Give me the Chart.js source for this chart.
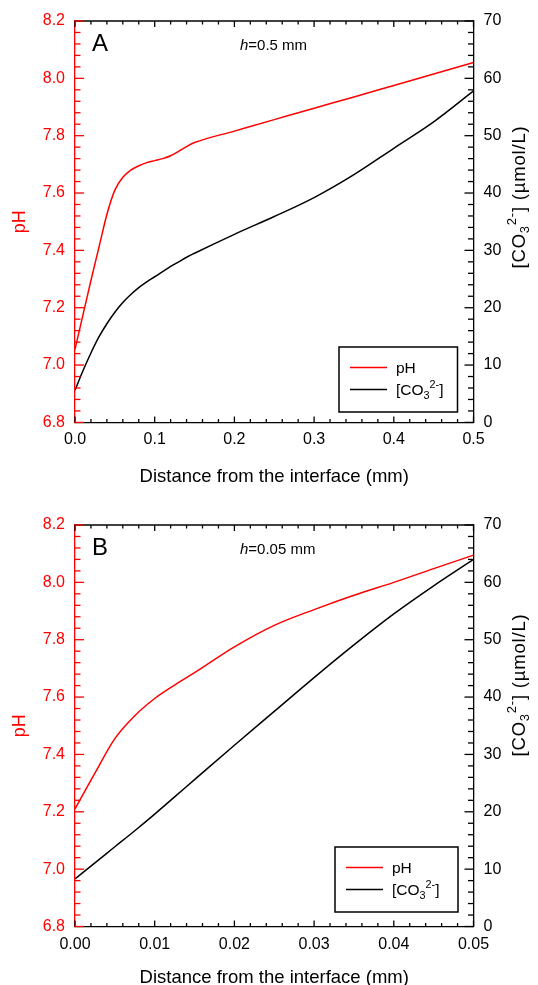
<!DOCTYPE html>
<html>
<head>
<meta charset="utf-8">
<script src="https://cdn.jsdelivr.net/npm/chart.js@4.4.0/dist/chart.umd.min.js"></script>
<style>
  html, body { margin: 0; padding: 0; background: #fff; }
  .panel { position: absolute; left: 0; width: 538px; }
  #panelA { top: 0; height: 490px; }
  #panelB { top: 490px; height: 495px; }
</style>
</head>
<body>
<div class="panel" id="panelA"><canvas id="chartA" width="538" height="490"></canvas></div>
<div class="panel" id="panelB"><canvas id="chartB" width="538" height="495"></canvas></div>
<script>
// DATA
const distA = [0, 0.01, 0.02, 0.03, 0.04, 0.05, 0.06, 0.07, 0.08, 0.09, 0.10, 0.11, 0.12, 0.13, 0.14, 0.15, 0.20, 0.25, 0.30, 0.35, 0.40, 0.45, 0.50];
const phA  = [7.055, 7.175, 7.295, 7.41, 7.525, 7.61, 7.655, 7.68, 7.695, 7.706, 7.713, 7.72, 7.73, 7.745, 7.762, 7.776, 7.816, 7.856, 7.896, 7.935, 7.975, 8.015, 8.055];
const co3A = [5.6, 9.0, 12.1, 14.9, 17.2, 19.2, 20.9, 22.3, 23.5, 24.5, 25.4, 26.3, 27.2, 28.0, 28.8, 29.5, 32.8, 35.9, 39.2, 43.2, 47.8, 52.4, 57.8];

const distB = [0, 0.0025, 0.005, 0.0075, 0.01, 0.0125, 0.015, 0.02, 0.025, 0.03, 0.035, 0.04, 0.045, 0.05];
const phB  = [7.21, 7.335, 7.455, 7.535, 7.595, 7.642, 7.685, 7.775, 7.85, 7.905, 7.955, 8.0, 8.048, 8.095];
const co3B = [8.3, 11.1, 13.9, 16.7, 19.6, 22.6, 25.6, 31.6, 37.5, 43.4, 49.1, 54.5, 59.4, 64.0];

const phTicks = [6.8, 7.0, 7.2, 7.4, 7.6, 7.8, 8.0, 8.2];
const co3Ticks = [0, 10, 20, 30, 40, 50, 60, 70];
const distTicksA = [0, 0.1, 0.2, 0.3, 0.4, 0.5];
const distTicksB = [0, 0.01, 0.02, 0.03, 0.04, 0.05];

const phLabel = 'pH';
const co3Label = '[CO₃²⁻]';
// same label split for drawing with sub/superscript
const co3Parts = [['[CO', 0], ['3', -1], ['2-', 1], [']', 0]];
const co3TitleParts = co3Parts.concat([[' (\u00b5mol/L)', 0]]);
const xTitle = 'Distance from the interface (mm)';

const FONT = "'Liberation Sans', Arial, sans-serif";
const RED = '#ff0000';

function pts(xs, ys) {
    return xs.map((x, i) => ({x: x, y: ys[i]}));
}

function partsWidth(ctx, parts, size) {
    let w = 0;
    parts.forEach(p => {
        ctx.font = (p[1] === 0 ? size : size * 0.7) + 'px ' + FONT;
        w += ctx.measureText(p[0]).width;
    });
    return w;
}

function drawParts(ctx, parts, x, y, size) {
    let cx = x;
    parts.forEach(p => {
        const s = p[1] === 0 ? size : size * 0.7;
        const dy = p[1] < 0 ? size * 0.28 : (p[1] > 0 ? -size * 0.42 : 0);
        ctx.font = s + 'px ' + FONT;
        ctx.fillText(p[0], cx, y + dy);
        cx += ctx.measureText(p[0]).width;
    });
}

// inward ticks, top border, legend box, panel letter etc.
const decor = {
    id: 'decor',
    afterDraw(chart, args, o) {
        const ctx = chart.ctx;
        const a = chart.chartArea;
        const sx = chart.scales.x, sy = chart.scales.y, sy1 = chart.scales.y1;
        ctx.save();
        ctx.lineWidth = 1.3;

        // top frame line
        ctx.strokeStyle = '#000';
        ctx.beginPath();
        ctx.moveTo(a.left, a.top);
        ctx.lineTo(a.right, a.top);
        ctx.stroke();

        // x ticks (bottom + top)
        const nx = Math.round((sx.max - sx.min) / o.minorX);
        for (let i = 0; i <= nx; i++) {
            const px = sx.getPixelForValue(sx.min + i * o.minorX);
            const len = i % 5 === 0 ? 6 : 3.5;
            ctx.beginPath();
            ctx.moveTo(px, a.bottom); ctx.lineTo(px, a.bottom - len);
            ctx.moveTo(px, a.top); ctx.lineTo(px, a.top + len);
            ctx.stroke();
        }
        // right ticks
        for (let i = 0; i <= 35; i++) {
            const py = sy1.getPixelForValue(i * 2);
            const len = i % 5 === 0 ? 9 : 5.5;
            ctx.beginPath();
            ctx.moveTo(a.right, py); ctx.lineTo(a.right - len, py);
            ctx.stroke();
        }
        // left ticks (red)
        ctx.strokeStyle = RED;
        for (let i = 0; i <= 35; i++) {
            const py = sy.getPixelForValue(6.8 + i * 0.04);
            const len = i % 5 === 0 ? 9 : 5.5;
            ctx.beginPath();
            ctx.moveTo(a.left, py); ctx.lineTo(a.left + len, py);
            ctx.stroke();
        }

        // panel letter and thickness note
        ctx.fillStyle = '#000';
        ctx.textBaseline = 'alphabetic';
        ctx.textAlign = 'left';
        ctx.font = '24px ' + FONT;
        ctx.fillText(o.letter, 92, a.top + 30);
        ctx.font = 'italic 15px ' + FONT;
        ctx.fillText('h', 240, a.top + 29);
        const hw = ctx.measureText('h').width;
        ctx.font = '15px ' + FONT;
        ctx.fillText(o.note, 240 + hw, a.top + 29);

        // legend
        const ds = chart.data.datasets;
        const bx = a.right - o.legRight - o.legW;
        const by = a.bottom - o.legBottom - o.legH;
        ctx.lineWidth = 1.5;
        ctx.strokeStyle = '#000';
        ctx.strokeRect(bx, by, o.legW, o.legH);
        const rows = [by + 20.5, by + 42.5];
        ds.forEach((d, i) => {
            ctx.strokeStyle = d.borderColor;
            ctx.beginPath();
            ctx.moveTo(bx + 11, rows[i]);
            ctx.lineTo(bx + 48, rows[i]);
            ctx.stroke();
            ctx.fillStyle = '#000';
            if (d.label === co3Label) {
                drawParts(ctx, co3Parts, bx + 57, rows[i] + 5.5, 15.5);
            } else {
                ctx.font = '15.5px ' + FONT;
                ctx.fillText(d.label, bx + 57, rows[i] + 5.5);
            }
        });

        // right axis title, reading bottom to top
        ctx.translate(520, o.rightTitleY);
        ctx.rotate(-Math.PI / 2);
        ctx.letterSpacing = '0.8px';
        const tw = partsWidth(ctx, co3TitleParts, 18.5);
        ctx.textBaseline = 'middle';
        ctx.fillStyle = '#000';
        drawParts(ctx, co3TitleParts, -tw / 2, 0, 18.5);
        ctx.restore();
    }
};

function makeChart(id, dist, ph, co3, distTicks, xmax, digits, opt) {
    const ctx = document.getElementById(id).getContext('2d');
    return new Chart(ctx, {
        type: 'line',
        data: {
            datasets: [{
                label: phLabel,
                data: pts(dist, ph),
                yAxisID: 'y',
                borderColor: RED,
                borderWidth: 1.5,
                pointRadius: 0,
                fill: false,
                cubicInterpolationMode: 'monotone'
            }, {
                label: co3Label,
                data: pts(dist, co3),
                yAxisID: 'y1',
                borderColor: '#000',
                borderWidth: 1.5,
                pointRadius: 0,
                fill: false,
                cubicInterpolationMode: 'monotone'
            }]
        },
        options: {
            responsive: false,
            animation: false,
            layout: { padding: { top: opt.padTop, left: 0, right: 0, bottom: 0 } },
            scales: {
                x: {
                    type: 'linear',
                    position: 'bottom',
                    min: 0,
                    max: xmax,
                    afterBuildTicks: s => { s.ticks = distTicks.map(v => ({value: v})); },
                    afterFit: s => { s.height = opt.xHeight; },
                    grid: { display: false, drawTicks: false },
                    border: { display: true, color: '#000', width: 1.3 },
                    ticks: {
                        color: '#000',
                        font: { family: FONT, size: 16 },
                        padding: 8,
                        maxRotation: 0,
                        autoSkip: false,
                        callback: v => v.toFixed(digits)
                    },
                    title: {
                        display: true,
                        text: xTitle,
                        color: '#000',
                        font: { family: FONT, size: 18.5 },
                        padding: { top: 0, bottom: opt.xTitlePad }
                    }
                },
                y: {
                    position: 'left',
                    min: 6.8,
                    max: 8.2,
                    afterBuildTicks: s => { s.ticks = phTicks.map(v => ({value: v})); },
                    afterFit: s => { s.width = 75; },
                    grid: { display: false, drawTicks: false },
                    border: { display: true, color: RED, width: 1.3 },
                    ticks: {
                        color: RED,
                        font: { family: FONT, size: 16 },
                        padding: 10,
                        callback: v => v.toFixed(1)
                    },
                    title: {
                        display: true,
                        text: 'pH',
                        color: RED,
                        font: { family: FONT, size: 18 },
                        padding: { top: 9, bottom: 0 }
                    }
                },
                y1: {
                    position: 'right',
                    min: 0,
                    max: 70,
                    afterBuildTicks: s => { s.ticks = co3Ticks.map(v => ({value: v})); },
                    afterFit: s => { s.width = 64.5; },
                    grid: { display: false, drawTicks: false },
                    border: { display: true, color: '#000', width: 1.3 },
                    ticks: {
                        color: '#000',
                        font: { family: FONT, size: 16 },
                        padding: 10
                    }
                }
            },
            plugins: {
                legend: { display: false },
                tooltip: { enabled: false },
                decor: opt.decor
            }
        },
        plugins: [decor]
    });
}

makeChart('chartA', distA, phA, co3A, distTicksA, 0.5, 1, {
    padTop: 21, xHeight: 67.6, xTitlePad: 2,
    decor: { letter: 'A', note: '=0.5 mm', minorX: 0.02, legW: 118.5, legH: 65, legRight: 16, legBottom: 10.4, rightTitleY: 197 }
});

makeChart('chartB', distB, phB, co3B, distTicksB, 0.05, 2, {
    padTop: 35, xHeight: 58.5, xTitlePad: -4,
    decor: { letter: 'B', note: '=0.05 mm', minorX: 0.002, legW: 123, legH: 65, legRight: 15.5, legBottom: 14.5, rightTitleY: 195 }
});
</script>
</body>
</html>
